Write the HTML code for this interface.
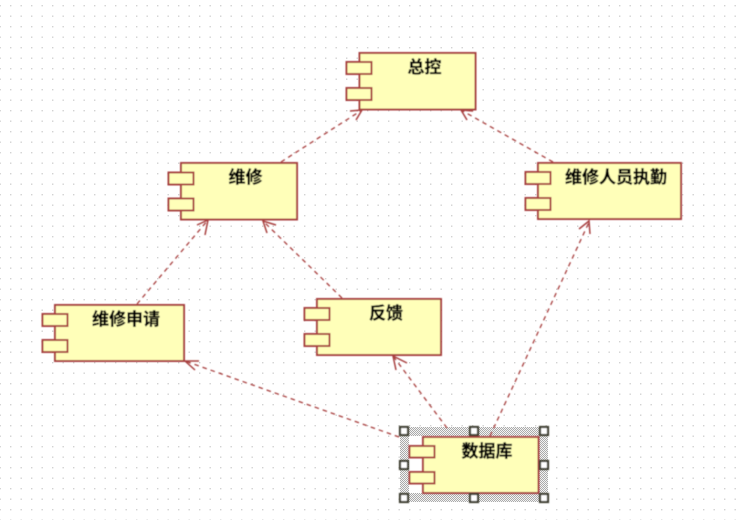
<!DOCTYPE html>
<html lang="zh">
<head>
<meta charset="utf-8">
<style>
html,body{margin:0;padding:0;background:#fff;width:740px;height:520px;overflow:hidden}
svg{display:block}
text{font-family:"Liberation Sans","Noto Sans CJK SC",sans-serif;font-size:17px;font-weight:700;fill:#000;stroke:#000;stroke-width:.3}
.b{fill:#ffffb9;stroke:#a8403f;stroke-width:2}
.l{stroke:#a8403f;stroke-width:1.3;stroke-dasharray:4.500 4;fill:none}
.a{stroke:#a8403f;stroke-width:1.5;fill:none}
.h{fill:#fff;stroke:#3f3f32;stroke-width:2.2}
</style>
</head>
<body>
<svg width="740" height="520" viewBox="0 0 740 520" xmlns="http://www.w3.org/2000/svg">
<defs>
<pattern id="g" x="10" y="5" width="10.5" height="10.5" patternUnits="userSpaceOnUse"><rect width="1.4" height="1.4" fill="#d2d2d2"/></pattern>
<pattern id="k" width="2" height="2" patternUnits="userSpaceOnUse"><rect width="2" height="2" fill="#f4f4f4"/><rect width="1" height="1" fill="#aaaaaa"/><rect x="1" y="1" width="1" height="1" fill="#aaaaaa"/></pattern>
<filter id="s" x="-5%" y="-5%" width="110%" height="110%"><feGaussianBlur stdDeviation="0.4"/></filter>
</defs>
<rect width="740" height="520" fill="#fff"/>
<rect width="740" height="520" fill="url(#g)"/>
<!-- selection -->
<path fill-rule="evenodd" fill="url(#k)" d="M400 427H548V502H400ZM409 436V493H539V436Z"/>
<rect x="409" y="436" width="14" height="57" fill="#fff"/>
<g filter="url(#s)">
<!-- connectors -->
<path class="l" d="M281 162L362 110"/><path class="a" d="M350 111L362 110L356 120"/>
<path class="l" d="M553 162L461 110"/><path class="a" d="M467 120L461 110L473 111"/>
<path class="l" d="M137 304L208 220"/><path class="a" d="M197 225L208 220L205 235"/>
<path class="l" d="M342 298L263 221"/><path class="a" d="M267 233L263 221L276 225"/>
<path class="l" d="M490 436L590 220"/><path class="a" d="M579 229L589 221L590 234"/>
<path class="l" d="M447 428L393 356"/><path class="a" d="M396 370L393 356L407 363"/>
<path class="l" d="M399 437L185 361"/><path class="a" d="M199 361L185 361L195 370"/>

<!-- 总控 -->
<rect class="b" x="359.500" y="53" width="116" height="56.500"/>
<rect class="b" x="346.500" y="62" width="25" height="12"/>
<rect class="b" x="346.500" y="88" width="25" height="12"/>
<text x="424.500" y="73" text-anchor="middle">总控</text>

<!-- 维修 -->
<rect class="b" x="181" y="163" width="116" height="56.500"/>
<rect class="b" x="168.500" y="172.500" width="25" height="12"/>
<rect class="b" x="168.500" y="198.500" width="25" height="12"/>
<text x="245.500" y="183" text-anchor="middle">维修</text>

<!-- 维修人员执勤 -->
<rect class="b" x="538" y="163" width="143" height="56"/>
<rect class="b" x="525.500" y="172" width="25" height="12"/>
<rect class="b" x="525.500" y="198" width="25" height="12"/>
<text x="616" y="183" text-anchor="middle">维修人员执勤</text>

<!-- 维修申请 -->
<rect class="b" x="55" y="305" width="129" height="56"/>
<rect class="b" x="42.500" y="314" width="25" height="12"/>
<rect class="b" x="42.500" y="340" width="25" height="12"/>
<text x="126" y="325" text-anchor="middle">维修申请</text>

<!-- 反馈 -->
<rect class="b" x="317" y="299" width="124" height="56"/>
<rect class="b" x="304.500" y="308" width="25" height="12"/>
<rect class="b" x="304.500" y="334" width="25" height="12"/>
<text x="386" y="319" text-anchor="middle">反馈</text>

<!-- 数据库 -->
<rect class="b" x="423" y="437" width="115.500" height="56"/>
<rect class="b" x="409.500" y="446" width="25" height="11.500"/>
<rect class="b" x="409.500" y="472" width="25" height="11.500"/>
<text x="487" y="457" text-anchor="middle">数据库</text>

<!-- handles -->
<rect class="h" x="400" y="427" width="8" height="8"/>
<rect class="h" x="470" y="427" width="8" height="8"/>
<rect class="h" x="540" y="427" width="8" height="8"/>
<rect class="h" x="400" y="461" width="8" height="8"/>
<rect class="h" x="540" y="461" width="8" height="8"/>
<rect class="h" x="400" y="494" width="8" height="8"/>
<rect class="h" x="470" y="494" width="8" height="8"/>
<rect class="h" x="540" y="494" width="8" height="8"/>
</g>
</svg>
</body>
</html>
